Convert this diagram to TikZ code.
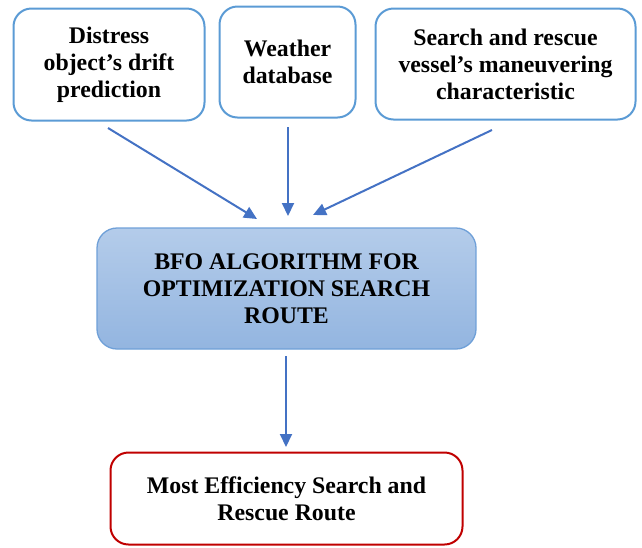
\documentclass[tikz,border=0pt]{standalone}
\usepackage{fontspec}
\setmainfont{Liberation Serif}
\usetikzlibrary{arrows.meta}
\definecolor{topblue}{HTML}{5B9BD5}
\definecolor{arrblue}{HTML}{4472C4}
\definecolor{midtop}{HTML}{B4CCEA}
\definecolor{midbot}{HTML}{93B5E0}
\definecolor{midborder}{HTML}{6FA0D8}
\definecolor{outred}{HTML}{C00000}
\begin{document}
\begin{tikzpicture}[x=1pt,y=-1pt,
  txt/.style={align=center,font=\fontsize{23.8}{27}\selectfont\bfseries,inner sep=0pt},
  inbox/.style={txt,draw=topblue,line width=2pt,rounded corners=18pt,fill=white},
  algbox/.style={txt,draw=midborder,line width=1.3pt,rounded corners=20pt,top color=midtop,bottom color=midbot},
  outbox/.style={txt,draw=outred,line width=2pt,rounded corners=18pt,fill=white},
  arr/.style={draw=arrblue,line width=2pt,-{Triangle[length=13pt,width=12pt]}}]
\useasboundingbox (0,0) rectangle (642,547);
\node[inbox,minimum width=191pt,minimum height=112pt] (b1) at (109,64.5) {Distress\\object’s drift\\prediction};
\node[inbox,minimum width=136pt,minimum height=111pt] (b2) at (287.5,62) {Weather\\database};
\node[inbox,minimum width=260pt,minimum height=111pt] (b3) at (505.5,64) {Search and rescue\\vessel’s maneuvering\\characteristic};
\node[algbox,minimum width=379pt,minimum height=121pt] (alg) at (286.5,288.5) {BFO ALGORITHM FOR\\OPTIMIZATION SEARCH\\ROUTE};
\node[outbox,minimum width=352pt,minimum height=92pt] (out) at (286.5,498.5) {Most Efficiency Search and\\Rescue Route};
\coordinate (s1) at (108,128);
\coordinate (e1) at (257,219);
\coordinate (s2) at (288,127);
\coordinate (e2) at (288,216);
\coordinate (s3) at (492,130);
\coordinate (e3) at (313,215);
\coordinate (s4) at (286,356);
\coordinate (e4) at (286,447);
\draw[arr] (s1) -- (e1);
\draw[arr] (s2) -- (e2);
\draw[arr] (s3) -- (e3);
\draw[arr] (s4) -- (e4);
\end{tikzpicture}
\end{document}
